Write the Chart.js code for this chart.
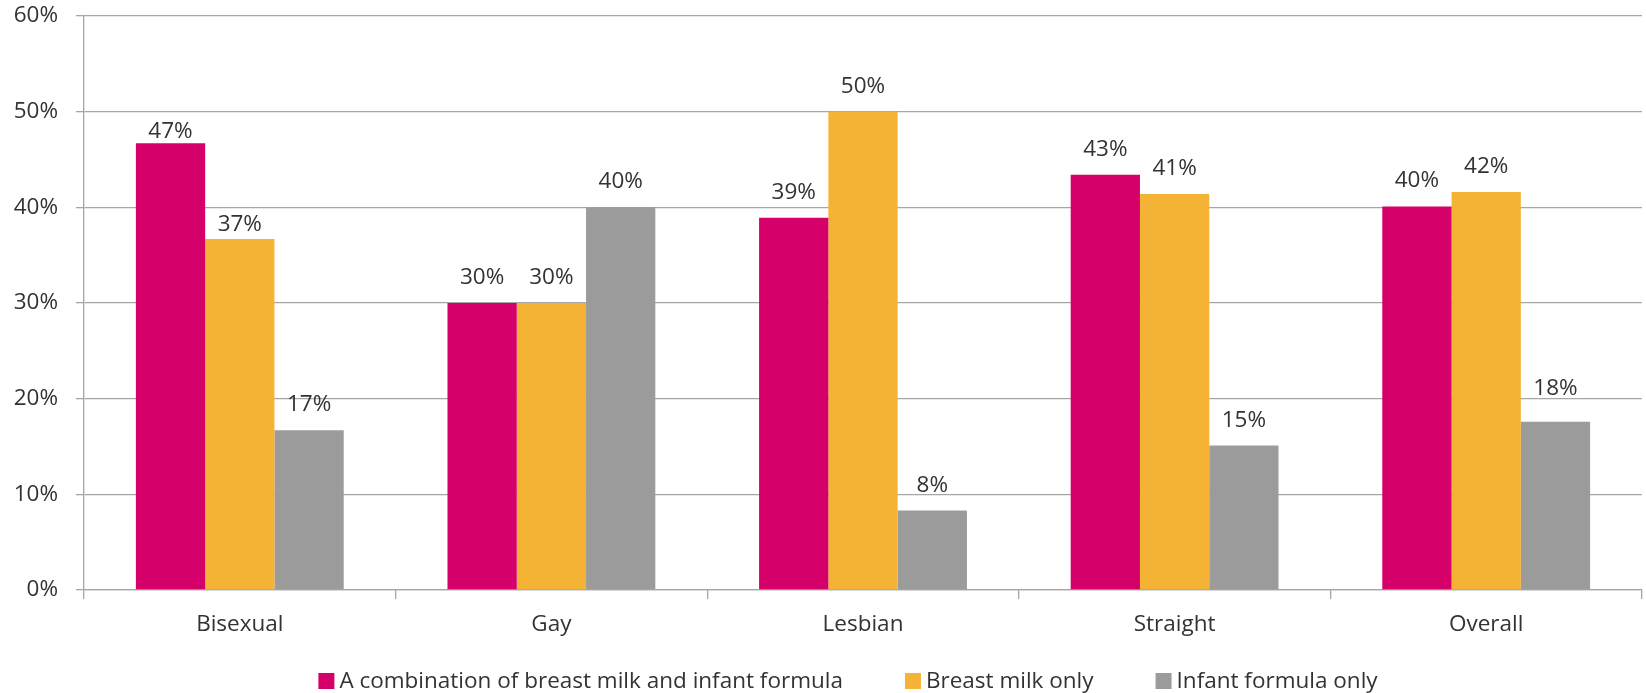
<!DOCTYPE html>
<html>
<head>
<meta charset="utf-8">
<script src="https://cdn.jsdelivr.net/npm/chart.js@4/dist/chart.umd.min.js"></script>
<style>
  html, body { margin: 0; padding: 0; background: #fff; }
  #wrap { width: 1646px; height: 693px; position: relative; }
</style>
</head>
<body>
<div id="wrap"><canvas id="feedingChart"></canvas></div>
<script>
// Chart data
const categories = ['Bisexual', 'Gay', 'Lesbian', 'Straight', 'Overall'];
const seriesNames = ['A combination of breast milk and infant formula', 'Breast milk only', 'Infant formula only'];
const combinationValues = [46.7, 30.0, 38.9, 43.4, 40.1];
const breastOnlyValues = [36.7, 30.0, 50.0, 41.4, 41.6];
const formulaOnlyValues = [16.7, 40.0, 8.3, 15.1, 17.6];
const yTicks = [0, 10, 20, 30, 40, 50, 60];

const colors = ['#D6006B', '#F5B335', '#9B9B9B'];
const fontFamily = '"Open Sans", "DejaVu Sans", sans-serif';
const fontSize = 22.5;
const textColor = '#333333';

// Value labels above each bar (gap between label and bar top, a few are placed closer/further like the original)
const barLabels = {
  id: 'barLabels',
  afterDatasetsDraw(chart, args, opts) {
    const ctx = chart.ctx;
    const gaps = opts.gaps || {};
    ctx.save();
    ctx.font = fontSize + 'px ' + fontFamily;
    ctx.fillStyle = textColor;
    ctx.textAlign = 'center';
    ctx.textBaseline = 'alphabetic';
    chart.data.datasets.forEach((ds, i) => {
      const meta = chart.getDatasetMeta(i);
      meta.data.forEach((bar, j) => {
        const gap = gaps[i + '-' + j] !== undefined ? gaps[i + '-' + j] : opts.gap;
        ctx.fillText(Math.round(ds.data[j]) + '%', bar.x, bar.y - gap);
      });
    });
    ctx.restore();
  }
};

// Legend drawn at the bottom
const bottomLegend = {
  id: 'bottomLegend',
  afterDraw(chart) {
    const ctx = chart.ctx;
    const box = 16, gap = 5, spacing = 62, centerY = 681;
    ctx.save();
    ctx.font = fontSize + 'px ' + fontFamily;
    ctx.textBaseline = 'middle';
    ctx.textAlign = 'left';
    const items = chart.data.datasets.map(ds => ({
      text: ds.label,
      color: ds.backgroundColor,
      w: box + gap + ctx.measureText(ds.label).width
    }));
    const total = items.reduce((s, it) => s + it.w, 0) + spacing * (items.length - 1);
    let x = (chart.width - total) / 2 + 25;
    items.forEach(it => {
      ctx.fillStyle = it.color;
      ctx.fillRect(x, centerY - box / 2, box, box);
      ctx.fillStyle = textColor;
      ctx.fillText(it.text, x + box + gap, centerY + 1);
      x += it.w + spacing;
    });
    ctx.restore();
  }
};

document.addEventListener('DOMContentLoaded', function() {
  const ctx = document.getElementById('feedingChart');

  new Chart(ctx, {
    type: 'bar',
    data: {
      labels: categories,
      datasets: [
        { label: seriesNames[0], data: combinationValues, backgroundColor: colors[0] },
        { label: seriesNames[1], data: breastOnlyValues, backgroundColor: colors[1] },
        { label: seriesNames[2], data: formulaOnlyValues, backgroundColor: colors[2] }
      ]
    },
    options: {
      responsive: true,
      maintainAspectRatio: false,
      animation: false,
      datasets: {
        bar: {
          barPercentage: 1.0,
          categoryPercentage: 0.667
        }
      },
      layout: {
        padding: { left: 13, right: 4, top: 16, bottom: 43 }
      },
      scales: {
        y: {
          min: 0,
          max: 60,
          afterBuildTicks(axis) {
            axis.ticks = yTicks.map(v => ({ value: v }));
          },
          afterFit(axis) {
            axis.width = 71;
            axis.paddingTop = 0;
            axis.paddingBottom = 0;
          },
          ticks: {
            padding: 18,
            color: textColor,
            font: { family: fontFamily, size: fontSize },
            callback: v => v + '%'
          },
          grid: {
            color: '#A6A6A6',
            lineWidth: 1.3,
            tickLength: 8
          },
          border: { display: true, color: '#A6A6A6', width: 1.3 }
        },
        x: {
          grid: {
            offset: true,
            drawOnChartArea: false,
            drawTicks: true,
            tickLength: 9,
            color: '#A6A6A6',
            lineWidth: 1.3
          },
          border: { display: true, color: '#A6A6A6', width: 1.3 },
          ticks: {
            padding: 12,
            color: textColor,
            font: { family: fontFamily, size: fontSize }
          }
        }
      },
      plugins: {
        legend: { display: false },
        tooltip: { enabled: false },
        barLabels: {
          gap: 19,
          gaps: { '0-0': 5, '1-0': 8, '2-4': 27 }
        }
      }
    },
    plugins: [barLabels, bottomLegend]
  });
});
</script>
</body>
</html>
